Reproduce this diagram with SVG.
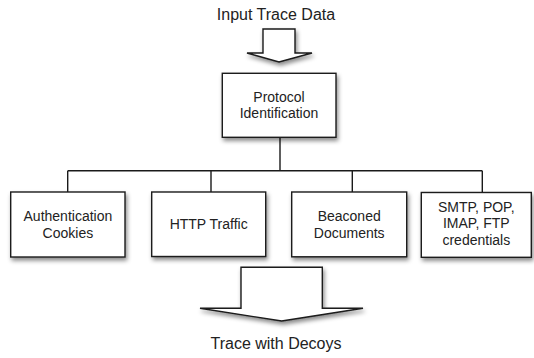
<svg xmlns="http://www.w3.org/2000/svg" width="534" height="358" viewBox="0 0 534 358">
<style>
.box{fill:#fff;stroke:#1a1a1a;stroke-width:1.4;filter:url(#sh)}
.arr{fill:#fff;stroke:#1a1a1a;stroke-width:1.4;stroke-linejoin:miter;filter:url(#sh)}
.t{font-family:"Liberation Sans",Arial,sans-serif;font-size:14px;fill:#222;text-anchor:middle}
.big{font-size:16px}
.con{stroke:#1a1a1a;stroke-width:1.4;fill:none}
</style>
<defs>
<filter id="sh" x="-20%" y="-20%" width="150%" height="160%">
<feDropShadow dx="1.5" dy="3" stdDeviation="2.2" flood-color="#000" flood-opacity="0.45"/>
</filter>
</defs>
<rect width="534" height="358" fill="#fff"/>
<text class="t big" x="276" y="19.5">Input Trace Data</text>
<g id="arrow-in">
<polygon class="arr" points="263,29 295,29 295,53 312,53 279,62 247,53 263,53"/>
</g>
<g id="connectors">
<path class="con" d="M280,137.5 V170.7 M67.7,170.7 H482.3 M67.7,170.7 V192 M211,170.7 V192 M352.3,170.7 V192 M482.3,170.7 V192"/>
</g>
<g id="protocol">
<rect class="box" x="222.3" y="73.3" width="113.7" height="64"/>
<text class="t" x="279" y="101.7">Protocol</text>
<text class="t" x="279" y="118">Identification</text>
</g>
<g id="auth">
<rect class="box" x="10.7" y="192" width="114.3" height="65"/>
<text class="t" x="67.9" y="221">Authentication</text>
<text class="t" x="67.9" y="237.7">Cookies</text>
</g>
<g id="http">
<rect class="box" x="151.7" y="192" width="114" height="64.5"/>
<text class="t" x="208.7" y="228.5">HTTP Traffic</text>
</g>
<g id="beacon">
<rect class="box" x="291.7" y="192" width="115" height="64.8"/>
<text class="t" x="349.2" y="221">Beaconed</text>
<text class="t" x="349.2" y="237.7">Documents</text>
</g>
<g id="creds">
<rect class="box" x="421.3" y="192.5" width="110" height="64.8"/>
<text class="t" x="476.3" y="211.7">SMTP, POP,</text>
<text class="t" x="476.3" y="228">IMAP, FTP</text>
<text class="t" x="476.3" y="244.5">credentials</text>
</g>
<g id="arrow-out">
<polygon class="arr" points="241,267.3 322.3,267.3 322.3,308.3 363,308.3 281.7,321 200,308.3 241,308.3"/>
</g>
<text class="t big" x="276" y="348.5">Trace with Decoys</text>
</svg>
